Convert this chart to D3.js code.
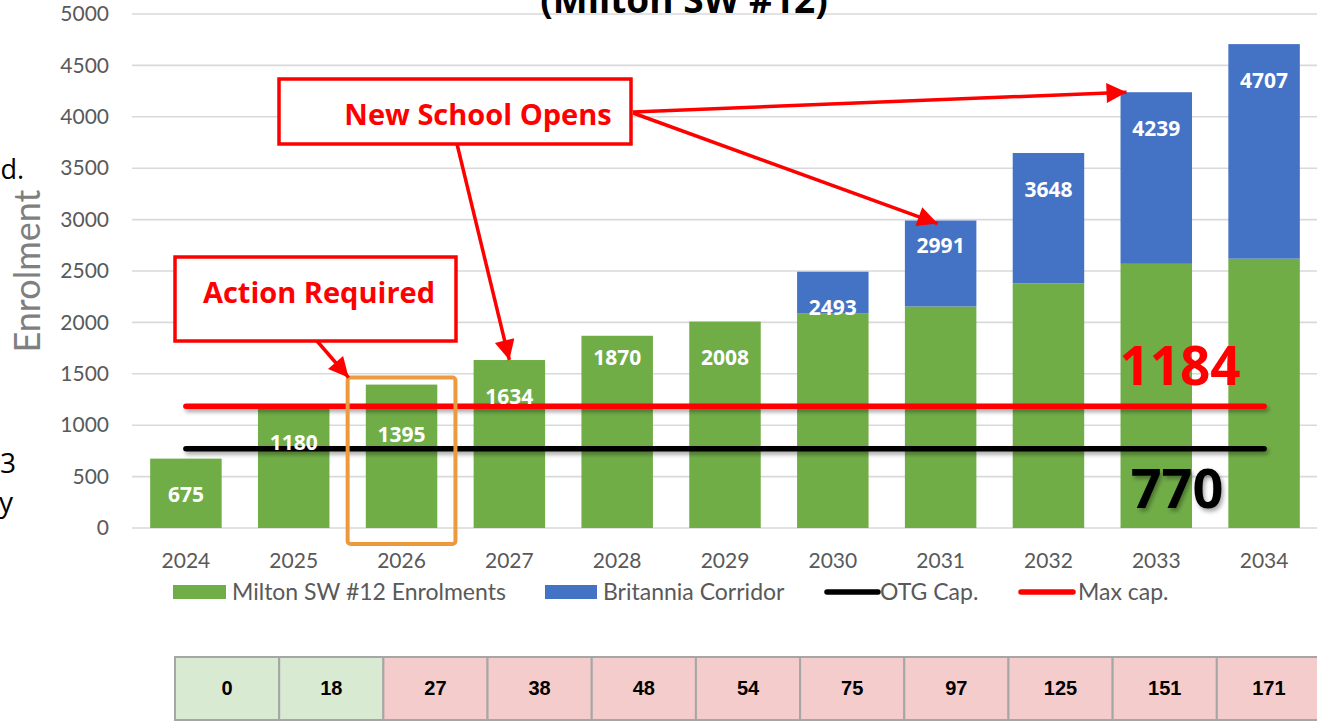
<!DOCTYPE html>
<html>
<head>
<meta charset="utf-8">
<script src="https://cdn.jsdelivr.net/npm/d3@7"></script>
<style>
  html, body { margin: 0; padding: 0; background: #fff; overflow: hidden; }
  svg { display: block; }
</style>
</head>
<body>
<div id="chart"></div>
<script>
// data
var years = ["2024", "2025", "2026", "2027", "2028", "2029", "2030", "2031", "2032", "2033", "2034"];
var miltonSW12 = [675, 1180, 1395, 1634, 1870, 2008, 2090, 2155, 2380, 2570, 2620];
var britannia = [0, 0, 0, 0, 0, 0, 403, 836, 1268, 1669, 2087];
var otgCap = 770;
var maxCap = 1184;
var yTicks = [0, 500, 1000, 1500, 2000, 2500, 3000, 3500, 4000, 4500, 5000];
var tableValues = [0, 18, 27, 38, 48, 54, 75, 97, 125, 151, 171];

var w = 1317, h = 725;
var green = "#70AD47", blue = "#4472C4";
var axisFont = "Lato, 'Open Sans', sans-serif";
var boldFont = "'Open Sans', 'Noto Sans', sans-serif";

var svg = d3.select("#chart").append("svg")
    .attr("width", w)
    .attr("height", h);

var defs = svg.append("defs");
// user space region so flat lines still get their shadow
var shadow = defs.append("filter").attr("id", "shadow")
    .attr("filterUnits", "userSpaceOnUse")
    .attr("x", 0).attr("y", 0).attr("width", w).attr("height", h);
shadow.append("feDropShadow")
    .attr("dx", 2).attr("dy", 3).attr("stdDeviation", 2)
    .attr("flood-color", "#000").attr("flood-opacity", 0.35);

defs.append("marker").attr("id", "head")
    .attr("viewBox", "0 0 10 10")
    .attr("refX", 10).attr("refY", 5)
    .attr("markerUnits", "userSpaceOnUse")
    .attr("markerWidth", 26).attr("markerHeight", 20)
    .attr("orient", "auto")
    .append("path").attr("d", "M0,0 L10,5 L0,10 Z").attr("fill", "#FF0000");

var x = d3.scaleBand().domain(years).range([132, 1318]).paddingInner(0.337).paddingOuter(0.1685);
var y = d3.scaleLinear().domain([0, 5000]).range([528, 14]);
var gap = x.step() - x.bandwidth();

// gridlines
svg.append("g").selectAll("line")
    .data(yTicks)
    .enter().append("line")
    .attr("x1", 132).attr("x2", w)
    .attr("y1", function(d) { return y(d); })
    .attr("y2", function(d) { return y(d); })
    .attr("stroke", "#D9D9D9")
    .attr("stroke-width", 1.6);

// y axis (labels only)
var yAxis = svg.append("g")
    .attr("transform", "translate(109,0)")
    .call(d3.axisLeft(y).tickValues(yTicks).tickFormat(d3.format("d")).tickSize(0).tickPadding(0));
yAxis.select(".domain").remove();
yAxis.selectAll("text")
    .attr("font-family", axisFont).attr("font-size", 21).attr("fill", "#595959");

// x axis (labels only)
var xAxis = svg.append("g")
    .attr("transform", "translate(0,553)")
    .call(d3.axisBottom(x).tickSize(0).tickPadding(0));
xAxis.select(".domain").remove();
xAxis.selectAll("text")
    .attr("font-family", axisFont).attr("font-size", 21).attr("fill", "#595959");

// axis title
svg.append("text")
    .attr("transform", "translate(40,271) rotate(-90)")
    .attr("text-anchor", "middle")
    .attr("font-family", axisFont).attr("font-size", 36)
    .attr("fill", "#7F7F7F")
    .text("Enrolment");

// clipped bits of slide text at the left edge
svg.append("text").attr("x", 24).attr("y", 179).attr("text-anchor", "end")
    .attr("font-family", boldFont).attr("font-size", 27).text("d.");
svg.append("text").attr("x", 16).attr("y", 473).attr("text-anchor", "end")
    .attr("font-family", boldFont).attr("font-size", 28).text("3");
svg.append("text").attr("x", 13).attr("y", 512).attr("text-anchor", "end")
    .attr("font-family", boldFont).attr("font-size", 28).text("y");

// title (cut off at the top, as in the slide)
svg.append("text")
    .attr("x", 684).attr("y", 13)
    .attr("text-anchor", "middle")
    .attr("font-family", boldFont).attr("font-weight", "bold").attr("font-size", 37)
    .text("(Milton SW #12)");

// stacked bars
var rows = years.map(function(yr, i) {
    return { year: yr, milton: miltonSW12[i], britannia: britannia[i] };
});
var stack = d3.stack().keys(["milton", "britannia"])(rows);
var colors = { milton: green, britannia: blue };

svg.append("g").selectAll("g")
    .data(stack)
    .enter().append("g")
    .attr("fill", function(s) { return colors[s.key]; })
    .selectAll("rect")
    .data(function(s) { return s; })
    .enter().append("rect")
    .attr("x", function(d) { return x(d.data.year); })
    .attr("width", x.bandwidth())
    .attr("y", function(d) { return y(d[1]); })
    .attr("height", function(d) { return y(d[0]) - y(d[1]); });

// capacity lines
var capLine = d3.line()
    .x(function(d) { return x(d) + x.bandwidth() / 2; });
svg.append("path")
    .attr("d", capLine.y(function() { return y(otgCap); })(years))
    .attr("fill", "none").attr("stroke", "#000").attr("stroke-width", 5.5)
    .attr("stroke-linecap", "round").attr("filter", "url(#shadow)");
svg.append("path")
    .attr("d", capLine.y(function() { return y(maxCap); })(years))
    .attr("fill", "none").attr("stroke", "#FF0000").attr("stroke-width", 5.5)
    .attr("stroke-linecap", "round").attr("filter", "url(#shadow)");

// total labels, on top of the lines
var labelDy = { "2026": 50, "2028": 22, "2031": 25 };
svg.append("g").selectAll("text")
    .data(rows)
    .enter().append("text")
    .attr("x", function(d) { return x(d.year) + x.bandwidth() / 2; })
    .attr("y", function(d) { return y(d.milton + d.britannia) + (labelDy[d.year] || 36); })
    .attr("dy", "0.36em")
    .attr("text-anchor", "middle")
    .attr("font-family", boldFont).attr("font-weight", "bold").attr("font-size", 21)
    .attr("fill", "#fff")
    .text(function(d) { return d.milton + d.britannia; });

svg.append("text")
    .attr("x", 1180).attr("y", 385)
    .attr("text-anchor", "middle")
    .attr("font-family", boldFont).attr("font-weight", "bold").attr("font-size", 53)
    .attr("fill", "#FF0000")
    .text(maxCap);
svg.append("text")
    .attr("x", 1177).attr("y", 508)
    .attr("text-anchor", "middle")
    .attr("font-family", boldFont).attr("font-weight", "bold").attr("font-size", 54)
    .attr("fill", "#000").attr("filter", "url(#shadow)")
    .text(otgCap);

// orange highlight round 2026
var hiTop = y(miltonSW12[2]) - 7;
svg.append("rect")
    .attr("x", x("2026") - gap / 2)
    .attr("width", x.step())
    .attr("y", hiTop)
    .attr("height", 544 - hiTop)
    .attr("rx", 3)
    .attr("fill", "none").attr("stroke", "#ED9A3E").attr("stroke-width", 4);

// callout boxes
function callout(x0, y0, bw, bh, label, tx, ty) {
    svg.append("rect")
        .attr("x", x0).attr("y", y0).attr("width", bw).attr("height", bh)
        .attr("fill", "#fff").attr("stroke", "#FF0000").attr("stroke-width", 3.5);
    svg.append("text")
        .attr("x", tx).attr("y", ty)
        .attr("text-anchor", "middle")
        .attr("font-family", boldFont).attr("font-weight", "bold").attr("font-size", 29)
        .attr("fill", "#FF0000")
        .text(label);
}
function arrow(x1, y1, x2, y2) {
    svg.append("line")
        .attr("x1", x1).attr("y1", y1).attr("x2", x2).attr("y2", y2)
        .attr("stroke", "#FF0000").attr("stroke-width", 3.5)
        .attr("marker-end", "url(#head)");
}

arrow(633, 112, x("2033") + 6, y(miltonSW12[9] + britannia[9]));
arrow(633, 113, x("2031") + x.bandwidth() / 2 - 3, y(miltonSW12[7] + britannia[7]) + 3);
arrow(457, 144, x("2027") + x.bandwidth() / 2, y(miltonSW12[3]));
arrow(317, 341, x("2026") - gap / 2 + 1, hiTop);

callout(279, 79, 352, 65, "New School Opens", 478, 125);
callout(175, 257, 281, 84, "Action Required", 319, 303);

// legend
var legend = svg.append("g").attr("font-family", axisFont).attr("font-size", 23).attr("fill", "#595959");
legend.append("rect").attr("x", 173).attr("y", 585).attr("width", 53).attr("height", 14).attr("fill", green);
legend.append("text").attr("x", 232).attr("y", 600).text("Milton SW #12 Enrolments");
legend.append("rect").attr("x", 545).attr("y", 585).attr("width", 52).attr("height", 14).attr("fill", blue);
legend.append("text").attr("x", 603).attr("y", 600).text("Britannia Corridor");
legend.append("line").attr("x1", 827).attr("x2", 878).attr("y1", 592).attr("y2", 592)
    .attr("stroke", "#000").attr("stroke-width", 5.5).attr("stroke-linecap", "round");
legend.append("text").attr("x", 880).attr("y", 600).text("OTG Cap.");
legend.append("line").attr("x1", 1021).attr("x2", 1073).attr("y1", 592).attr("y2", 592)
    .attr("stroke", "#FF0000").attr("stroke-width", 5.5).attr("stroke-linecap", "round");
legend.append("text").attr("x", 1078).attr("y", 600).text("Max cap.");

// table of values under the chart
var tx = d3.scaleBand().domain(years).range([175, 1321]);
var cells = svg.append("g").selectAll("g")
    .data(years)
    .enter().append("g");
cells.append("rect")
    .attr("x", function(d) { return tx(d); })
    .attr("y", 657)
    .attr("width", tx.bandwidth())
    .attr("height", 63)
    .attr("fill", function(d, i) { return miltonSW12[i] + britannia[i] <= maxCap ? "#D9EAD3" : "#F4CCCC"; })
    .attr("stroke", "#A6A6A6").attr("stroke-width", 2);
cells.append("text")
    .attr("x", function(d) { return tx(d) + tx.bandwidth() / 2; })
    .attr("y", 688)
    .attr("dy", "0.36em")
    .attr("text-anchor", "middle")
    .attr("font-family", "'Liberation Sans', Arial, sans-serif").attr("font-weight", "bold").attr("font-size", 20)
    .attr("fill", "#000")
    .text(function(d, i) { return tableValues[i]; });
</script>
</body>
</html>
